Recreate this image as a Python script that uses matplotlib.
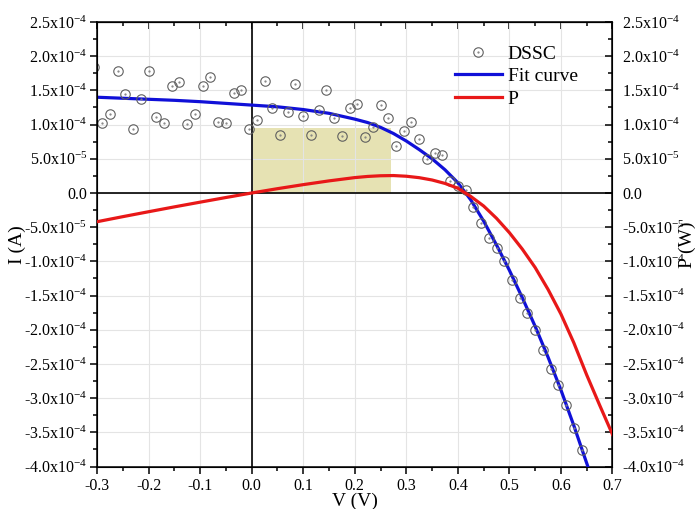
import numpy as np
import matplotlib.pyplot as plt
from matplotlib.patches import Rectangle
from matplotlib.ticker import MultipleLocator
from matplotlib.legend_handler import HandlerTuple

plt.rcParams['font.family'] = 'Liberation Serif'
plt.rcParams['mathtext.fontset'] = 'custom'
plt.rcParams['mathtext.rm'] = 'Liberation Serif'
plt.rcParams['mathtext.it'] = 'Liberation Serif:italic'

# measured I-V points of the cell (current in 1e-4 A)
v_meas = [-0.305, -0.29, -0.275, -0.26, -0.245, -0.23, -0.215, -0.20, -0.185, -0.17,
          -0.155, -0.14, -0.125, -0.11, -0.095, -0.08, -0.065, -0.05, -0.035, -0.02,
          -0.005, 0.01, 0.025, 0.04, 0.055, 0.07, 0.085, 0.10, 0.115, 0.13,
          0.145, 0.16, 0.175, 0.19, 0.205, 0.22, 0.235, 0.25, 0.265, 0.28,
          0.295, 0.31, 0.325, 0.34, 0.355, 0.37, 0.385, 0.40, 0.415, 0.43,
          0.445, 0.46, 0.475, 0.49, 0.505, 0.52, 0.535, 0.55, 0.565, 0.58,
          0.595, 0.61, 0.625, 0.64]
i_meas = [1.84, 1.02, 1.16, 1.78, 1.45, 0.94, 1.38, 1.79, 1.11, 1.02,
          1.56, 1.62, 1.01, 1.16, 1.56, 1.70, 1.04, 1.02, 1.46, 1.51,
          0.94, 1.06, 1.63, 1.24, 0.85, 1.18, 1.59, 1.13, 0.85, 1.21,
          1.50, 1.10, 0.83, 1.24, 1.30, 0.82, 0.96, 1.28, 1.09, 0.69,
          0.91, 1.04, 0.79, 0.50, 0.59, 0.55, 0.18, 0.10, 0.04, -0.20,
          -0.44, -0.66, -0.80, -1.00, -1.27, -1.54, -1.75, -2.00, -2.30, -2.57,
          -2.81, -3.10, -3.44, -3.76]

# fitted current (1e-4 A) and power (1e-4 W)
v_fit = [-0.30, -0.25, -0.20, -0.15, -0.10, -0.05, 0.00, 0.05, 0.10, 0.15,
         0.20, 0.225, 0.25, 0.275, 0.30, 0.325, 0.35, 0.375, 0.40, 0.425,
         0.45, 0.475, 0.50, 0.525, 0.55, 0.575, 0.60, 0.625, 0.65, 0.675, 0.70]
i_fit = [1.40, 1.385, 1.37, 1.355, 1.335, 1.31, 1.285, 1.26, 1.22, 1.165,
         1.08, 1.03, 0.96, 0.87, 0.76, 0.635, 0.50, 0.34, 0.15, -0.10,
         -0.41, -0.76, -1.13, -1.53, -1.95, -2.40, -2.88, -3.40, -3.95, -4.50, -5.05]
p_fit = [-0.42, -0.346, -0.274, -0.203, -0.134, -0.066, 0.0, 0.063, 0.122, 0.177,
         0.225, 0.242, 0.252, 0.255, 0.245, 0.224, 0.19, 0.14, 0.07, -0.05,
         -0.19, -0.37, -0.58, -0.82, -1.09, -1.41, -1.77, -2.19, -2.66, -3.10, -3.53]

# maximum power point
vmp, imp = 0.27, 0.95

x_ticks = [-0.3, -0.2, -0.1, 0.0, 0.1, 0.2, 0.3, 0.4, 0.5, 0.6, 0.7]
x_labels = ['-0.3', '-0.2', '-0.1', '0.0', '0.1', '0.2', '0.3', '0.4', '0.5', '0.6', '0.7']
y_ticks = [-4.0e-4, -3.5e-4, -3.0e-4, -2.5e-4, -2.0e-4, -1.5e-4, -1.0e-4, -5.0e-5,
           0.0, 5.0e-5, 1.0e-4, 1.5e-4, 2.0e-4, 2.5e-4]
y_labels = ['-4.0x10$^{-4}$', '-3.5x10$^{-4}$', '-3.0x10$^{-4}$', '-2.5x10$^{-4}$',
            '-2.0x10$^{-4}$', '-1.5x10$^{-4}$', '-1.0x10$^{-4}$', '-5.0x10$^{-5}$',
            '0.0', '5.0x10$^{-5}$', '1.0x10$^{-4}$', '1.5x10$^{-4}$', '2.0x10$^{-4}$',
            '2.5x10$^{-4}$']

scale = 1e-4
fig = plt.figure(figsize=(6.96, 5.09), dpi=100)
ax = fig.add_axes([0.1394, 0.0833, 0.7406, 0.8735])

ax.grid(True, color='#e4e4e4', lw=0.8, zorder=0)
ax.add_patch(Rectangle((0, 0), vmp, imp * scale, facecolor='#e6e2b3',
                       edgecolor='none', zorder=1))
ax.axhline(0, color='k', lw=1.2, zorder=2)
ax.axvline(0, color='k', lw=1.2, zorder=2)

ring, = ax.plot(v_meas, np.array(i_meas) * scale, 'o', ms=6.8, mfc='none',
                mec='#606060', mew=0.8, zorder=5)
dot, = ax.plot(v_meas, np.array(i_meas) * scale, '.', ms=1.2, color='#808080', zorder=5)
fit_line, = ax.plot(v_fit, np.array(i_fit) * scale, color='#1010d8', lw=2.3, zorder=4)

ax.set_xlim(-0.3, 0.7)
ax.set_ylim(-4.0e-4, 2.5e-4)
ax.set_xticks(x_ticks, x_labels)
ax.set_yticks(y_ticks, y_labels)
ax.xaxis.set_minor_locator(MultipleLocator(0.05))
ax.yaxis.set_minor_locator(MultipleLocator(2.5e-5))
ax.tick_params(which='both', direction='out', labelsize=11.5, width=1.1, top=False, right=False)
ax.tick_params(which='major', length=5)
ax.tick_params(which='minor', length=3)
ax.tick_params(axis='y', pad=2)
for s in ax.spines.values():
    s.set_linewidth(1.1)

# top axis: ticks only, pointing in
top = ax.secondary_xaxis('top')
top.set_xticks(x_ticks)
top.xaxis.set_minor_locator(MultipleLocator(0.05))
top.tick_params(which='both', direction='in', labeltop=False, width=1.1)
top.tick_params(which='major', length=5)
top.tick_params(which='minor', length=3)

# right axis for the power curve, same scale
ax2 = ax.twinx()
p_line, = ax2.plot(v_fit, np.array(p_fit) * scale, color='#e81818', lw=2.3, zorder=4)
ax2.set_ylim(-4.0e-4, 2.5e-4)
ax2.set_yticks(y_ticks, y_labels)
ax2.yaxis.set_minor_locator(MultipleLocator(2.5e-5))
ax2.tick_params(which='both', direction='in', labelsize=11.5, width=1.1, pad=7)
ax2.tick_params(which='major', length=5)
ax2.tick_params(which='minor', length=3)

ax.set_xlabel('V (V)', fontsize=14, labelpad=-1)
ax.set_ylabel('I (A)', fontsize=14)
ax2.set_ylabel('P (W)', fontsize=14)
# axis titles sit over the tick labels
ax.yaxis.set_label_coords(-0.138, 0.5)
ax2.yaxis.set_label_coords(1.128, 0.5)

ax2.legend([(ring, dot), fit_line, p_line], ['DSSC', 'Fit curve', 'P'],
           handler_map={tuple: HandlerTuple(ndivide=1, pad=0)}, numpoints=1,
           loc='upper left', bbox_to_anchor=(455 / 696, 1 - 45 / 509),
           bbox_transform=fig.transFigure, frameon=False, fontsize=14,
           borderpad=0, borderaxespad=0, handlelength=2.4, handletextpad=0.3,
           labelspacing=0.25)

fig.savefig('out.png', dpi=100)
